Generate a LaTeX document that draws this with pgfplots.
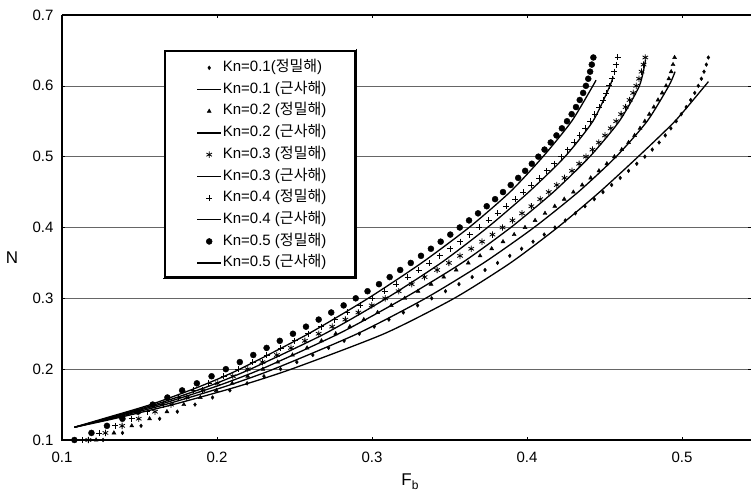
\documentclass[border=0pt]{standalone}
\usepackage{fontspec}
\setmainfont{Liberation Sans}
\newfontfamily\kr{Noto Sans CJK KR}
\usepackage{pgfplots}
\pgfplotsset{compat=1.18}

% exact solutions: markers only; approximate solutions: plain black lines
\pgfplotsset{
  exact/.style={only marks, black,
    legend image code/.code={\path[draw=none] (0pt,0pt) -- (56pt,0pt);
      \draw[##1] plot coordinates {(44pt,0pt)};}},
  approx/.style={no marks, black, line width=1.3pt, smooth, tension=0.4,
    legend image code/.code={\path[draw=none] (0pt,0pt) -- (56pt,0pt);
      \draw[##1] (32pt,0pt) -- (56pt,0pt);}},
}

\begin{document}
\begin{tikzpicture}
\begin{axis}[
  name=ax,
  scale only axis, width=689pt, height=425pt,
  xmin=0.1, xmax=0.5445, ymin=0.1, ymax=0.7,
  clip=false,
  axis line style={draw=none},
  xtick={0.1,0.2,0.3,0.4,0.5}, xticklabels={0.1,0.2,0.3,0.4,0.5},
  ytick={0.1,0.2,0.3,0.4,0.5,0.6,0.7}, yticklabels={0.1,0.2,0.3,0.4,0.5,0.6,0.7},
  tick align=inside, major tick length=3pt, tick style={black, line width=0.6pt},
  ymajorgrids, grid style={black!60, line width=0.6pt},
  /pgf/number format/assume math mode=true,
  ticklabel style={font=\fontsize{15}{17}\selectfont},
  xticklabel style={yshift=-8pt},
  yticklabel style={xshift=-5pt},
  legend cell align=left,
  legend style={draw=none, fill=none, inner sep=0pt,
    at={(rel axis cs:0.1495,0.892)}, anchor=north west,
    font=\fontsize{15}{17}\selectfont,
    nodes={inner xsep=1pt, inner ysep=0pt, text height=10.5pt, text depth=3pt},
    row sep=8.2pt, column sep=0pt},
]

% Kn = 0.1
\addplot[exact, mark=diamond*, mark size=1.9pt] table {
0.1265 0.10
0.1390 0.11
0.1510 0.12
0.1630 0.13
0.1744 0.14
0.1858 0.15
0.1971 0.16
0.2083 0.17
0.2194 0.18
0.2303 0.19
0.2410 0.20
0.2515 0.21
0.2618 0.22
0.2720 0.23
0.2820 0.24
0.2918 0.25
0.3014 0.26
0.3109 0.27
0.3202 0.28
0.3294 0.29
0.3385 0.30
0.3474 0.31
0.3561 0.32
0.3646 0.33
0.3729 0.34
0.3810 0.35
0.3889 0.36
0.3965 0.37
0.4039 0.38
0.4111 0.39
0.4180 0.40
0.4247 0.41
0.4312 0.42
0.4374 0.43
0.4434 0.44
0.4490 0.45
0.4546 0.46
0.4601 0.47
0.4655 0.48
0.4708 0.49
0.4760 0.50
0.4808 0.51
0.4852 0.52
0.4892 0.53
0.4928 0.54
0.4962 0.55
0.4995 0.56
0.5027 0.57
0.5056 0.58
0.5082 0.59
0.5105 0.60
0.5125 0.61
0.5142 0.62
0.5157 0.63
0.5170 0.64
};
\addlegendentry{Kn=0.1({\kr 정밀해})}
\addplot[approx] coordinates {
(0.1080,0.118) (0.1334,0.13) (0.1716,0.15) (0.2126,0.175) (0.2479,0.20)
(0.3078,0.25) (0.3530,0.30) (0.3893,0.35) (0.4197,0.40) (0.4468,0.45)
(0.4717,0.50) (0.4954,0.55) (0.5148,0.60) (0.5170,0.606)};
\addlegendentry{Kn=0.1 ({\kr 근사해})}

% Kn = 0.2
\addplot[exact, mark=triangle*, mark size=2.3pt] table {
0.1220 0.10
0.1335 0.11
0.1450 0.12
0.1565 0.13
0.1677 0.14
0.1786 0.15
0.1892 0.16
0.1996 0.17
0.2098 0.18
0.2198 0.19
0.2296 0.20
0.2392 0.21
0.2487 0.22
0.2581 0.23
0.2674 0.24
0.2766 0.25
0.2857 0.26
0.2947 0.27
0.3036 0.28
0.3124 0.29
0.3211 0.30
0.3297 0.31
0.3381 0.32
0.3463 0.33
0.3543 0.34
0.3621 0.35
0.3697 0.36
0.3772 0.37
0.3845 0.38
0.3917 0.39
0.3987 0.40
0.4052 0.41
0.4116 0.42
0.4179 0.43
0.4240 0.44
0.4299 0.45
0.4356 0.46
0.4411 0.47
0.4464 0.48
0.4515 0.49
0.4564 0.50
0.4611 0.51
0.4655 0.52
0.4694 0.53
0.4729 0.54
0.4760 0.55
0.4789 0.56
0.4818 0.57
0.4845 0.58
0.4872 0.59
0.4897 0.60
0.4915 0.61
0.4930 0.62
0.4942 0.63
0.4952 0.64
};
\addlegendentry{Kn=0.2 ({\kr 정밀해})}
\addplot[approx] coordinates {
(0.1080,0.118) (0.1312,0.13) (0.1665,0.15) (0.2045,0.175) (0.2365,0.20)
(0.2905,0.25) (0.3345,0.30) (0.3720,0.35) (0.4045,0.40) (0.4330,0.45)
(0.4575,0.50) (0.4775,0.55) (0.4915,0.60) (0.4955,0.62)};
\addlegendentry{Kn=0.2 ({\kr 근사해})}

% Kn = 0.3
\addplot[exact, mark=asterisk, mark size=3.2pt, mark options={line width=0.8pt}] table {
0.1170 0.10
0.1280 0.11
0.1388 0.12
0.1495 0.13
0.1600 0.14
0.1703 0.15
0.1805 0.16
0.1906 0.17
0.2005 0.18
0.2102 0.19
0.2198 0.20
0.2293 0.21
0.2386 0.22
0.2477 0.23
0.2567 0.24
0.2656 0.25
0.2743 0.26
0.2828 0.27
0.2912 0.28
0.2998 0.29
0.3085 0.30
0.3172 0.31
0.3256 0.32
0.3339 0.33
0.3420 0.34
0.3496 0.35
0.3568 0.36
0.3640 0.37
0.3710 0.38
0.3777 0.39
0.3842 0.40
0.3906 0.41
0.3968 0.42
0.4028 0.43
0.4085 0.44
0.4140 0.45
0.4192 0.46
0.4242 0.47
0.4290 0.48
0.4336 0.49
0.4380 0.50
0.4422 0.51
0.4463 0.52
0.4503 0.53
0.4540 0.54
0.4575 0.55
0.4607 0.56
0.4636 0.57
0.4662 0.58
0.4685 0.59
0.4705 0.60
0.4723 0.61
0.4739 0.62
0.4752 0.63
0.4763 0.64
};
\addlegendentry{Kn=0.3 ({\kr 정밀해})}
\addplot[approx] coordinates {
(0.1080,0.118) (0.1295,0.13) (0.1628,0.15) (0.1985,0.175) (0.2285,0.20)
(0.2785,0.25) (0.3205,0.30) (0.3580,0.35) (0.3895,0.40) (0.4170,0.45)
(0.4405,0.50) (0.4595,0.55) (0.4725,0.60) (0.4765,0.637)};
\addlegendentry{Kn=0.3 ({\kr 근사해})}

% Kn = 0.4
\addplot[exact, mark=+, mark size=3pt, mark options={line width=0.8pt}] table {
0.1130 0.10
0.1240 0.11
0.1345 0.12
0.1449 0.13
0.1551 0.14
0.1652 0.15
0.1752 0.16
0.1850 0.17
0.1947 0.18
0.2042 0.19
0.2137 0.20
0.2229 0.21
0.2321 0.22
0.2411 0.23
0.2500 0.24
0.2587 0.25
0.2673 0.26
0.2758 0.27
0.2841 0.28
0.2923 0.29
0.3003 0.30
0.3081 0.31
0.3157 0.32
0.3230 0.33
0.3300 0.34
0.3368 0.35
0.3436 0.36
0.3503 0.37
0.3567 0.38
0.3630 0.39
0.3692 0.40
0.3752 0.41
0.3810 0.42
0.3867 0.43
0.3922 0.44
0.3976 0.45
0.4028 0.46
0.4079 0.47
0.4128 0.48
0.4175 0.49
0.4220 0.50
0.4263 0.51
0.4303 0.52
0.4340 0.53
0.4375 0.54
0.4407 0.55
0.4437 0.56
0.4465 0.57
0.4490 0.58
0.4512 0.59
0.4531 0.60
0.4548 0.61
0.4562 0.62
0.4574 0.63
0.4585 0.64
};
\addlegendentry{Kn=0.4 ({\kr 정밀해})}
\addplot[approx] coordinates {
(0.1080,0.118) (0.1280,0.13) (0.1600,0.15) (0.1935,0.175) (0.2215,0.20)
(0.2695,0.25) (0.3093,0.30) (0.3445,0.35) (0.3745,0.40) (0.4011,0.45)
(0.4245,0.50) (0.4425,0.55) (0.4535,0.60) (0.4555,0.613)};
\addlegendentry{Kn=0.4 ({\kr 근사해})}

% Kn = 0.5
\addplot[exact, mark=*, mark size=3pt] table {
0.1080 0.10
0.1190 0.11
0.1290 0.12
0.1390 0.13
0.1490 0.14
0.1585 0.15
0.1680 0.16
0.1775 0.17
0.1870 0.18
0.1965 0.19
0.2057 0.20
0.2147 0.21
0.2234 0.22
0.2320 0.23
0.2405 0.24
0.2490 0.25
0.2574 0.26
0.2656 0.27
0.2737 0.28
0.2817 0.29
0.2895 0.30
0.2971 0.31
0.3045 0.32
0.3114 0.33
0.3182 0.34
0.3250 0.35
0.3316 0.36
0.3380 0.37
0.3443 0.38
0.3505 0.39
0.3566 0.40
0.3626 0.41
0.3684 0.42
0.3740 0.43
0.3794 0.44
0.3845 0.45
0.3895 0.46
0.3943 0.47
0.3988 0.48
0.4031 0.49
0.4073 0.50
0.4113 0.51
0.4153 0.52
0.4190 0.53
0.4225 0.54
0.4258 0.55
0.4288 0.56
0.4316 0.57
0.4340 0.58
0.4362 0.59
0.4380 0.60
0.4395 0.61
0.4407 0.62
0.4418 0.63
0.4428 0.64
};
\addlegendentry{Kn=0.5 ({\kr 정밀해})}
\addplot[approx] coordinates {
(0.1080,0.118) (0.1265,0.13) (0.1572,0.15) (0.1883,0.175) (0.2147,0.20)
(0.2590,0.25) (0.2975,0.30) (0.3320,0.35) (0.3626,0.40) (0.3890,0.45)
(0.4103,0.50) (0.4288,0.55) (0.4425,0.60) (0.4445,0.608)};
\addlegendentry{Kn=0.5 ({\kr 근사해})}

% frame: left, bottom and top sides
\draw[line width=1.6pt] (rel axis cs:0,1) -- (rel axis cs:0,0) -- (rel axis cs:1,0);
\draw[line width=1.2pt] (rel axis cs:0,1) -- (rel axis cs:1,1);

% legend box with a slight shadow
\fill[white] (rel axis cs:0.1495,0.3835) rectangle (rel axis cs:0.4253,0.9153);
\draw[line width=1.2pt] (rel axis cs:0.1495,0.3835) rectangle (rel axis cs:0.4253,0.9153);
\draw[line width=1.2pt] ([xshift=1.6pt,yshift=2pt]rel axis cs:0.4253,0.9153)
  -- ([xshift=1.6pt,yshift=-1.6pt]rel axis cs:0.4253,0.3835)
  -- ([xshift=-2pt,yshift=-1.6pt]rel axis cs:0.1495,0.3835);

% axis titles
\node[font=\fontsize{17}{19}\selectfont] at ([xshift=-50pt]rel axis cs:0,0.428) {N};
\node[font=\fontsize{17}{19}\selectfont] at ([yshift=-42pt]rel axis cs:0.505,0)
  {F\raisebox{-0.4ex}{\fontsize{12}{12}\selectfont b}};

\coordinate (bl) at (rel axis cs:0,0);
\coordinate (tr) at (rel axis cs:1,1);
\end{axis}
\pgfresetboundingbox
\path ([xshift=-62pt,yshift=-54pt]bl) rectangle ([yshift=15pt]tr);
\end{tikzpicture}
\end{document}
